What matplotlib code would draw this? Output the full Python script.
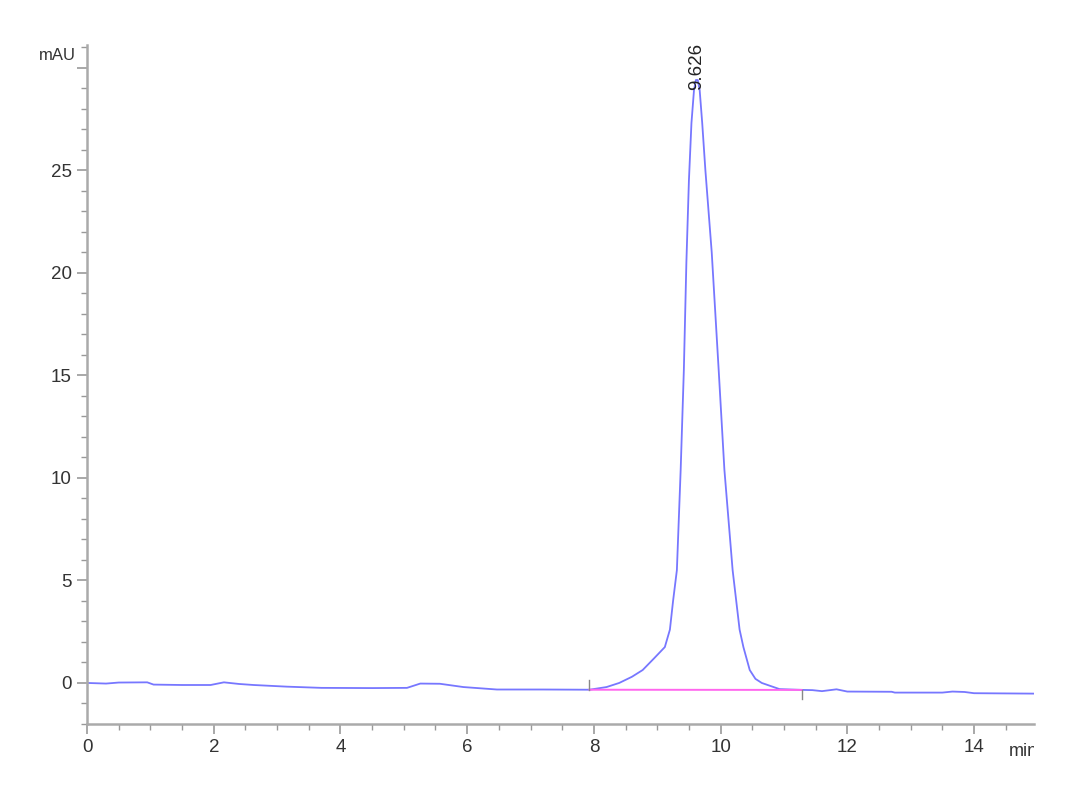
import matplotlib.pyplot as plt
from matplotlib.ticker import MultipleLocator
from matplotlib.patches import Rectangle

plt.rcParams['font.family'] = ['Liberation Sans Narrow', 'Liberation Sans', 'DejaVu Sans']

# chromatogram trace (min, mAU)
time = [0.0, 0.3, 0.5, 0.95, 1.05, 1.5, 1.95, 2.16, 2.4, 2.63, 3.15, 3.7, 4.5, 5.05,
        5.26, 5.57, 5.94, 6.47, 7.2, 7.93, 8.2, 8.4, 8.6, 8.77, 8.95, 9.12, 9.2,
        9.25, 9.31, 9.37, 9.42, 9.46, 9.5, 9.54, 9.58, 9.61, 9.64, 9.67, 9.71,
        9.76, 9.86, 9.97, 10.06, 10.19, 10.3, 10.36, 10.46, 10.55, 10.65, 10.93,
        11.3, 11.45, 11.6, 11.83, 12.0, 12.7, 12.75, 13.5, 13.66, 13.85, 14.0, 14.94]
signal = [0.0, -0.03, 0.02, 0.03, -0.08, -0.1, -0.1, 0.03, -0.05, -0.1, -0.18, -0.24,
          -0.25, -0.24, -0.03, -0.04, -0.2, -0.32, -0.32, -0.33, -0.2, 0.0, 0.3, 0.63,
          1.2, 1.75, 2.6, 4.0, 5.5, 10.4, 15.25, 20.5, 24.5, 27.3, 28.9, 29.4, 29.4,
          28.9, 27.3, 25.0, 21.0, 15.25, 10.4, 5.5, 2.6, 1.75, 0.63, 0.2, 0.0, -0.3,
          -0.34, -0.35, -0.4, -0.31, -0.42, -0.43, -0.47, -0.47, -0.42, -0.44, -0.5,
          -0.52]

# integration baseline
base_x = [7.93, 11.28]
base_y = [-0.33, -0.34]

peak_rt = 9.626
peak_label = "9.626"

fig = plt.figure(figsize=(10.8, 7.92), dpi=100)
ax = fig.add_axes([0.0806, 0.0859, 0.8764, 0.8571])

ax.plot(time, signal, color='#7777ff', lw=1.3)
ax.plot(base_x, base_y, color='#ff66ee', lw=1.4)
# baseline start / end marks
ax.plot([base_x[0], base_x[0]], [base_y[0], base_y[0] + 0.45], color='#888888', lw=1)
ax.plot([base_x[1], base_x[1]], [base_y[1], base_y[1] - 0.45], color='#888888', lw=1)

ax.text(peak_rt, 28.9, peak_label, rotation=90, ha='center', va='bottom',
        fontsize=13.5, color='#222222')

ax.set_xlim(0, 14.94)
ax.set_ylim(-2, 31.1)

for s in ['top', 'right']:
    ax.spines[s].set_visible(False)
for s in ['left', 'bottom']:
    ax.spines[s].set_color('#aaaaaa')
    ax.spines[s].set_linewidth(1.8)

ax.xaxis.set_major_locator(MultipleLocator(2))
ax.xaxis.set_minor_locator(MultipleLocator(0.5))
ax.yaxis.set_major_locator(MultipleLocator(5))
ax.yaxis.set_minor_locator(MultipleLocator(1))
ax.set_yticks([0, 5, 10, 15, 20, 25, 30])
ax.set_yticklabels(['0', '5', '10', '15', '20', '25', ''])

ax.tick_params(which='major', length=7, width=1.2, color='#999999',
               labelsize=13.5, labelcolor='#333333', pad=4)
ax.tick_params(which='minor', length=4, width=1.0, color='#999999')

ax.text(-0.012, 30.6, 'mAU', transform=ax.get_yaxis_transform(), ha='right',
        va='center', fontsize=12, color='#333333')

clip = Rectangle((0, -0.1), 1.0, 0.1, transform=ax.transAxes, visible=False)
ax.add_patch(clip)
t = ax.text(14.55, -0.028, 'min', transform=ax.get_xaxis_transform(), ha='left',
            va='top', fontsize=13, color='#333333', clip_on=True)
t.set_clip_path(clip)

fig.savefig('out.png', dpi=100)
